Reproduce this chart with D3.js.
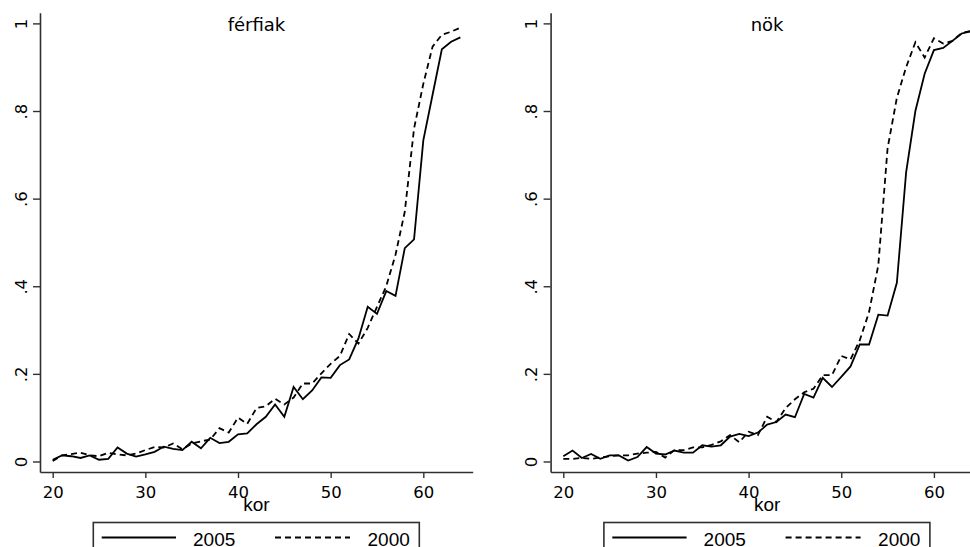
<!DOCTYPE html>
<html><head><meta charset="utf-8">
<script src="https://cdn.jsdelivr.net/npm/d3@7"></script>
<style>
html,body{margin:0;padding:0;background:#fff;overflow:hidden}
text{font-family:"Liberation Sans",Arial,sans-serif;fill:#000}
</style></head>
<body><svg id="c" width="970" height="547"></svg>
<script>
const ages = d3.range(20, 65);
const panelTitles = ["férfiak", "nök"];
const seriesNames = ["2005", "2000"];
const xTicks = [20, 30, 40, 50, 60];
const yTicks = [0, 0.2, 0.4, 0.6, 0.8, 1];
const yTickLabels = ["0", ".2", ".4", ".6", ".8", "1"];
const xTitle = "kor";

const men2005 = [0.004,0.014,0.012,0.008,0.014,0.004,0.006,0.032,0.018,0.011,
  0.016,0.022,0.034,0.029,0.026,0.045,0.030,0.054,0.042,0.045,
  0.062,0.064,0.085,0.102,0.130,0.102,0.170,0.142,0.162,0.192,
  0.191,0.220,0.233,0.281,0.353,0.337,0.389,0.378,0.487,0.507,
  0.733,0.837,0.941,0.958,0.968];
const men2000 = [0.001,0.014,0.017,0.020,0.014,0.012,0.020,0.016,0.014,0.018,
  0.026,0.033,0.032,0.041,0.028,0.041,0.046,0.050,0.076,0.066,
  0.100,0.086,0.122,0.126,0.143,0.130,0.146,0.178,0.178,0.201,
  0.223,0.241,0.291,0.269,0.305,0.353,0.400,0.472,0.570,0.760,
  0.862,0.947,0.974,0.981,0.990];
const women2005 = [0.012,0.025,0.008,0.017,0.006,0.014,0.014,0.002,0.010,0.033,
  0.018,0.016,0.025,0.020,0.020,0.037,0.034,0.037,0.057,0.063,
  0.058,0.066,0.084,0.090,0.107,0.101,0.154,0.146,0.191,0.170,
  0.193,0.217,0.267,0.267,0.335,0.333,0.408,0.660,0.800,0.885,
  0.939,0.944,0.960,0.977,0.982];
const women2000 = [0.006,0.006,0.008,0.006,0.009,0.012,0.014,0.014,0.018,0.020,
  0.022,0.009,0.026,0.026,0.032,0.032,0.038,0.046,0.060,0.044,
  0.068,0.060,0.102,0.090,0.122,0.142,0.158,0.166,0.197,0.197,
  0.241,0.233,0.277,0.341,0.448,0.715,0.830,0.900,0.957,0.922,
  0.966,0.954,0.960,0.978,0.983];

const panels = [
  {title: panelTitles[0], s: [men2005, men2000], dx: 0},
  {title: panelTitles[1], s: [women2005, women2000], dx: 510.6}
];
const dashes = [null, "6,4"];
const WIDE = '"DejaVu Sans",Verdana,sans-serif';

const svg = d3.select("#c");
const x = d3.scaleLinear().domain([18.63, 65.33]).range([40, 472.7]);
const y = d3.scaleLinear().domain([-0.024, 1.0244]).range([472, 12.7]);
const AX = "#303030";

panels.forEach(p => {
  const g = svg.append("g").attr("transform", `translate(${p.dx},0)`);

  // y axis
  const ya = g.append("g").attr("transform", "translate(40,0)")
    .call(d3.axisLeft(y).tickValues(yTicks).tickSize(7).tickSizeOuter(0)
      .tickFormat((d, i) => yTickLabels[i]));
  ya.select(".domain").attr("stroke", AX).attr("stroke-width", 1.6);
  ya.selectAll(".tick line").attr("stroke", AX).attr("stroke-width", 1.4);
  ya.selectAll(".tick text")
    .attr("x", null).attr("dy", null)
    .attr("text-anchor", "middle")
    .attr("transform", "translate(-13.5,0) rotate(-90)")
    .style("font-family", WIDE)
    .style("font-size", "16.5px").attr("fill", "#000");

  // x axis
  const xa = g.append("g").attr("transform", "translate(0,472)")
    .call(d3.axisBottom(x).tickValues(xTicks).tickSize(6).tickSizeOuter(0)
      .tickFormat(d3.format("d")));
  xa.select(".domain").attr("stroke", AX).attr("stroke-width", 1.6);
  xa.selectAll(".tick line").attr("stroke", AX).attr("stroke-width", 1.4);
  xa.selectAll(".tick text").attr("y", 25.5).attr("dy", null)
    .style("font-family", WIDE)
    .style("font-size", "16.5px").attr("fill", "#000");

  // series lines
  const line = d3.line().x((d, i) => x(ages[i])).y(d => y(d));
  p.s.forEach((vals, k) => {
    g.append("path").datum(vals).attr("d", line)
      .attr("fill", "none").attr("stroke", "#000")
      .attr("stroke-width", 1.8).attr("stroke-linejoin", "miter")
      .attr("stroke-dasharray", dashes[k]);
  });

  // title
  g.append("text").attr("x", 256.5).attr("y", 30.5).attr("text-anchor", "middle")
    .style("font-family", WIDE).style("font-size", "18px").text(p.title);
  // x title
  g.append("text").attr("x", 256.5).attr("y", 510.5).attr("text-anchor", "middle")
    .style("font-size", "19px").text(xTitle);

  // legend
  const lg = g.append("g");
  lg.append("rect").attr("x", 93.3).attr("y", 522.5).attr("width", 326).attr("height", 60)
    .attr("fill", "#fff").attr("stroke", AX).attr("stroke-width", 1.6);
  const items = [{x1: 101.7, x2: 176, tx: 193}, {x1: 275, x2: 350, tx: 367.5}];
  items.forEach((it, k) => {
    lg.append("line").attr("x1", it.x1).attr("x2", it.x2).attr("y1", 537.5).attr("y2", 537.5)
      .attr("stroke", "#000").attr("stroke-width", 1.8).attr("stroke-dasharray", dashes[k]);
    lg.append("text").attr("x", it.tx).attr("y", 545.5).style("font-size", "19px").text(seriesNames[k]);
  });
});
</script></body></html>
